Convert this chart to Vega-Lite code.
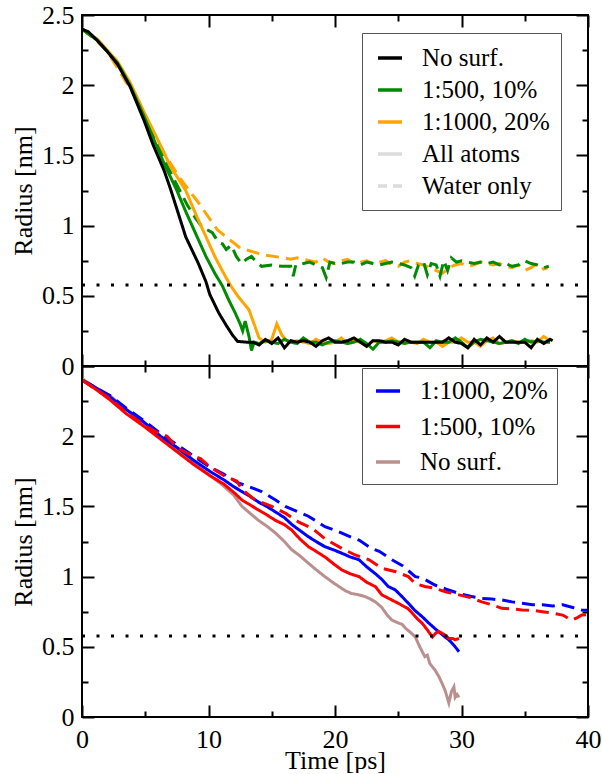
{
  "$schema": "https://vega.github.io/schema/vega-lite/v6.json",
  "padding": {"left": 10, "top": 2, "right": 5, "bottom": 0},
  "background": "white",
  "spacing": 0,
  "bounds": "flush",
  "config": {
    "font": "Liberation Serif",
    "view": {"stroke": null},
    "axis": {
      "domain": false, "grid": false,
      "labelFont": "Liberation Serif", "labelFontSize": 26, "labelColor": "black",
      "titleFont": "Liberation Serif", "titleFontSize": 26, "titleFontWeight": "normal", "titleColor": "black",
      "tickColor": "black", "tickWidth": 2, "labelFlush": false, "labelOverlap": false
    },
    "legend": {
      "labelFont": "Liberation Serif", "labelFontSize": 25, "labelColor": "black",
      "symbolType": "stroke", "symbolSize": 576, "symbolStrokeWidth": 3.5,
      "labelOffset": 18, "strokeColor": "#555555", "fillColor": "white", "padding": 11,
      "symbolOffset": 3, "orient": "none", "direction": "vertical", "title": null
    }
  },
  "datasets": {
    "top": [
      {"s":"1:1000, 20%","k":"w","t":0,"r":2.40},{"s":"1:1000, 20%","k":"w","t":1.0,"r":2.33},{"s":"1:1000, 20%","k":"w","t":2.0,"r":2.24},{"s":"1:1000, 20%","k":"w","t":3.5,"r":2.02},{"s":"1:1000, 20%","k":"w","t":4.4,"r":1.89},{"s":"1:1000, 20%","k":"w","t":5.4,"r":1.70},{"s":"1:1000, 20%","k":"w","t":6.6,"r":1.50},{"s":"1:1000, 20%","k":"w","t":7.8,"r":1.33},{"s":"1:1000, 20%","k":"w","t":9.15,"r":1.17},{"s":"1:1000, 20%","k":"w","t":10.7,"r":0.97},{"s":"1:1000, 20%","k":"w","t":12.5,"r":0.84},{"s":"1:1000, 20%","k":"w","t":14.4,"r":0.79},{"s":"1:1000, 20%","k":"w","t":16.0,"r":0.77},{"s":"1:1000, 20%","k":"w","t":16.5,"r":0.76},{"s":"1:1000, 20%","k":"w","t":17.0,"r":0.77},{"s":"1:1000, 20%","k":"w","t":17.5,"r":0.76},{"s":"1:1000, 20%","k":"w","t":18,"r":0.75},{"s":"1:1000, 20%","k":"w","t":18.5,"r":0.74},{"s":"1:1000, 20%","k":"w","t":19,"r":0.77},{"s":"1:1000, 20%","k":"w","t":19.5,"r":0.74},{"s":"1:1000, 20%","k":"w","t":20,"r":0.73},{"s":"1:1000, 20%","k":"w","t":20.5,"r":0.75},{"s":"1:1000, 20%","k":"w","t":21,"r":0.76},{"s":"1:1000, 20%","k":"w","t":21.5,"r":0.73},{"s":"1:1000, 20%","k":"w","t":22,"r":0.74},{"s":"1:1000, 20%","k":"w","t":22.5,"r":0.75},{"s":"1:1000, 20%","k":"w","t":23,"r":0.73},{"s":"1:1000, 20%","k":"w","t":23.5,"r":0.74},{"s":"1:1000, 20%","k":"w","t":24,"r":0.75},{"s":"1:1000, 20%","k":"w","t":24.5,"r":0.72},{"s":"1:1000, 20%","k":"w","t":25,"r":0.71},{"s":"1:1000, 20%","k":"w","t":25.5,"r":0.74},{"s":"1:1000, 20%","k":"w","t":26,"r":0.75},{"s":"1:1000, 20%","k":"w","t":26.5,"r":0.73},{"s":"1:1000, 20%","k":"w","t":27,"r":0.72},{"s":"1:1000, 20%","k":"w","t":27.5,"r":0.70},{"s":"1:1000, 20%","k":"w","t":28,"r":0.68},{"s":"1:1000, 20%","k":"w","t":28.5,"r":0.66},{"s":"1:1000, 20%","k":"w","t":29,"r":0.70},{"s":"1:1000, 20%","k":"w","t":29.5,"r":0.72},{"s":"1:1000, 20%","k":"w","t":30,"r":0.73},{"s":"1:1000, 20%","k":"w","t":30.5,"r":0.71},{"s":"1:1000, 20%","k":"w","t":31,"r":0.72},{"s":"1:1000, 20%","k":"w","t":31.5,"r":0.74},{"s":"1:1000, 20%","k":"w","t":32,"r":0.73},{"s":"1:1000, 20%","k":"w","t":32.5,"r":0.72},{"s":"1:1000, 20%","k":"w","t":33,"r":0.73},{"s":"1:1000, 20%","k":"w","t":33.5,"r":0.71},{"s":"1:1000, 20%","k":"w","t":34,"r":0.70},{"s":"1:1000, 20%","k":"w","t":34.5,"r":0.72},{"s":"1:1000, 20%","k":"w","t":35,"r":0.68},{"s":"1:1000, 20%","k":"w","t":35.5,"r":0.70},{"s":"1:1000, 20%","k":"w","t":36,"r":0.73},{"s":"1:1000, 20%","k":"w","t":36.5,"r":0.69},{"s":"1:1000, 20%","k":"w","t":36.8,"r":0.70},

      {"s":"1:500, 10%","k":"w","t":0,"r":2.40},{"s":"1:500, 10%","k":"w","t":1.2,"r":2.32},{"s":"1:500, 10%","k":"w","t":2.0,"r":2.24},{"s":"1:500, 10%","k":"w","t":2.8,"r":2.16},{"s":"1:500, 10%","k":"w","t":3.8,"r":2.00},{"s":"1:500, 10%","k":"w","t":4.9,"r":1.79},{"s":"1:500, 10%","k":"w","t":5.6,"r":1.65},{"s":"1:500, 10%","k":"w","t":6.5,"r":1.47},{"s":"1:500, 10%","k":"w","t":7.5,"r":1.29},{"s":"1:500, 10%","k":"w","t":8.3,"r":1.15},{"s":"1:500, 10%","k":"w","t":9.0,"r":1.05},{"s":"1:500, 10%","k":"w","t":9.5,"r":0.99},{"s":"1:500, 10%","k":"w","t":10.3,"r":0.95},{"s":"1:500, 10%","k":"w","t":10.8,"r":0.88},{"s":"1:500, 10%","k":"w","t":11.1,"r":0.87},{"s":"1:500, 10%","k":"w","t":11.4,"r":0.83},{"s":"1:500, 10%","k":"w","t":11.8,"r":0.86},{"s":"1:500, 10%","k":"w","t":12.2,"r":0.78},{"s":"1:500, 10%","k":"w","t":12.6,"r":0.73},{"s":"1:500, 10%","k":"w","t":13.0,"r":0.76},{"s":"1:500, 10%","k":"w","t":13.4,"r":0.78},{"s":"1:500, 10%","k":"w","t":13.8,"r":0.74},{"s":"1:500, 10%","k":"w","t":14.2,"r":0.71},{"s":"1:500, 10%","k":"w","t":15.0,"r":0.72},{"s":"1:500, 10%","k":"w","t":15.8,"r":0.71},{"s":"1:500, 10%","k":"w","t":16.5,"r":0.71},{"s":"1:500, 10%","k":"w","t":16.7,"r":0.64},{"s":"1:500, 10%","k":"w","t":16.9,"r":0.72},{"s":"1:500, 10%","k":"w","t":17.5,"r":0.73},{"s":"1:500, 10%","k":"w","t":18.0,"r":0.74},{"s":"1:500, 10%","k":"w","t":18.5,"r":0.72},{"s":"1:500, 10%","k":"w","t":19.0,"r":0.70},{"s":"1:500, 10%","k":"w","t":19.3,"r":0.63},{"s":"1:500, 10%","k":"w","t":19.6,"r":0.74},{"s":"1:500, 10%","k":"w","t":20.0,"r":0.73},{"s":"1:500, 10%","k":"w","t":20.5,"r":0.73},{"s":"1:500, 10%","k":"w","t":21,"r":0.74},{"s":"1:500, 10%","k":"w","t":21.5,"r":0.74},{"s":"1:500, 10%","k":"w","t":22,"r":0.72},{"s":"1:500, 10%","k":"w","t":22.5,"r":0.74},{"s":"1:500, 10%","k":"w","t":23,"r":0.73},{"s":"1:500, 10%","k":"w","t":23.5,"r":0.72},{"s":"1:500, 10%","k":"w","t":24,"r":0.73},{"s":"1:500, 10%","k":"w","t":24.5,"r":0.74},{"s":"1:500, 10%","k":"w","t":25,"r":0.73},{"s":"1:500, 10%","k":"w","t":25.5,"r":0.72},{"s":"1:500, 10%","k":"w","t":26,"r":0.70},{"s":"1:500, 10%","k":"w","t":26.3,"r":0.64},{"s":"1:500, 10%","k":"w","t":26.6,"r":0.72},{"s":"1:500, 10%","k":"w","t":27,"r":0.74},{"s":"1:500, 10%","k":"w","t":27.3,"r":0.65},{"s":"1:500, 10%","k":"w","t":27.6,"r":0.73},{"s":"1:500, 10%","k":"w","t":28,"r":0.72},{"s":"1:500, 10%","k":"w","t":28.3,"r":0.64},{"s":"1:500, 10%","k":"w","t":28.6,"r":0.75},{"s":"1:500, 10%","k":"w","t":28.9,"r":0.68},{"s":"1:500, 10%","k":"w","t":29.2,"r":0.77},{"s":"1:500, 10%","k":"w","t":29.6,"r":0.74},{"s":"1:500, 10%","k":"w","t":30,"r":0.75},{"s":"1:500, 10%","k":"w","t":30.5,"r":0.74},{"s":"1:500, 10%","k":"w","t":31,"r":0.73},{"s":"1:500, 10%","k":"w","t":31.5,"r":0.74},{"s":"1:500, 10%","k":"w","t":32,"r":0.73},{"s":"1:500, 10%","k":"w","t":32.5,"r":0.74},{"s":"1:500, 10%","k":"w","t":33,"r":0.72},{"s":"1:500, 10%","k":"w","t":33.5,"r":0.73},{"s":"1:500, 10%","k":"w","t":34,"r":0.71},{"s":"1:500, 10%","k":"w","t":34.5,"r":0.72},{"s":"1:500, 10%","k":"w","t":35,"r":0.75},{"s":"1:500, 10%","k":"w","t":35.5,"r":0.73},{"s":"1:500, 10%","k":"w","t":36,"r":0.72},{"s":"1:500, 10%","k":"w","t":36.5,"r":0.70},{"s":"1:500, 10%","k":"w","t":36.9,"r":0.71},

      {"s":"1:1000, 20%","k":"a","t":0,"r":2.40},{"s":"1:1000, 20%","k":"a","t":1.2,"r":2.33},{"s":"1:1000, 20%","k":"a","t":2.0,"r":2.25},{"s":"1:1000, 20%","k":"a","t":2.8,"r":2.17},{"s":"1:1000, 20%","k":"a","t":3.8,"r":2.02},{"s":"1:1000, 20%","k":"a","t":4.9,"r":1.81},{"s":"1:1000, 20%","k":"a","t":6.0,"r":1.61},{"s":"1:1000, 20%","k":"a","t":7.0,"r":1.42},{"s":"1:1000, 20%","k":"a","t":8.2,"r":1.25},{"s":"1:1000, 20%","k":"a","t":9.0,"r":1.08},{"s":"1:1000, 20%","k":"a","t":9.8,"r":0.92},{"s":"1:1000, 20%","k":"a","t":10.5,"r":0.78},{"s":"1:1000, 20%","k":"a","t":11.2,"r":0.66},{"s":"1:1000, 20%","k":"a","t":11.7,"r":0.58},{"s":"1:1000, 20%","k":"a","t":12.3,"r":0.50},{"s":"1:1000, 20%","k":"a","t":13.2,"r":0.40},{"s":"1:1000, 20%","k":"a","t":13.6,"r":0.30},{"s":"1:1000, 20%","k":"a","t":14.0,"r":0.20},{"s":"1:1000, 20%","k":"a","t":14.5,"r":0.17},{"s":"1:1000, 20%","k":"a","t":15.0,"r":0.19},{"s":"1:1000, 20%","k":"a","t":15.4,"r":0.30},{"s":"1:1000, 20%","k":"a","t":15.8,"r":0.22},{"s":"1:1000, 20%","k":"a","t":16.2,"r":0.18},{"s":"1:1000, 20%","k":"a","t":16.5,"r":0.17},{"s":"1:1000, 20%","k":"a","t":17,"r":0.18},{"s":"1:1000, 20%","k":"a","t":17.5,"r":0.17},{"s":"1:1000, 20%","k":"a","t":18,"r":0.16},{"s":"1:1000, 20%","k":"a","t":18.5,"r":0.19},{"s":"1:1000, 20%","k":"a","t":19,"r":0.17},{"s":"1:1000, 20%","k":"a","t":19.5,"r":0.16},{"s":"1:1000, 20%","k":"a","t":20,"r":0.17},{"s":"1:1000, 20%","k":"a","t":20.5,"r":0.20},{"s":"1:1000, 20%","k":"a","t":21,"r":0.16},{"s":"1:1000, 20%","k":"a","t":21.5,"r":0.18},{"s":"1:1000, 20%","k":"a","t":22,"r":0.17},{"s":"1:1000, 20%","k":"a","t":22.5,"r":0.14},{"s":"1:1000, 20%","k":"a","t":23,"r":0.18},{"s":"1:1000, 20%","k":"a","t":23.5,"r":0.17},{"s":"1:1000, 20%","k":"a","t":24,"r":0.18},{"s":"1:1000, 20%","k":"a","t":24.5,"r":0.20},{"s":"1:1000, 20%","k":"a","t":25,"r":0.17},{"s":"1:1000, 20%","k":"a","t":25.5,"r":0.18},{"s":"1:1000, 20%","k":"a","t":26,"r":0.17},{"s":"1:1000, 20%","k":"a","t":26.5,"r":0.16},{"s":"1:1000, 20%","k":"a","t":27,"r":0.19},{"s":"1:1000, 20%","k":"a","t":27.5,"r":0.17},{"s":"1:1000, 20%","k":"a","t":28,"r":0.17},{"s":"1:1000, 20%","k":"a","t":28.5,"r":0.14},{"s":"1:1000, 20%","k":"a","t":29,"r":0.17},{"s":"1:1000, 20%","k":"a","t":29.5,"r":0.17},{"s":"1:1000, 20%","k":"a","t":30,"r":0.20},{"s":"1:1000, 20%","k":"a","t":30.5,"r":0.17},{"s":"1:1000, 20%","k":"a","t":31,"r":0.17},{"s":"1:1000, 20%","k":"a","t":31.5,"r":0.14},{"s":"1:1000, 20%","k":"a","t":32,"r":0.18},{"s":"1:1000, 20%","k":"a","t":32.5,"r":0.20},{"s":"1:1000, 20%","k":"a","t":33,"r":0.16},{"s":"1:1000, 20%","k":"a","t":33.5,"r":0.17},{"s":"1:1000, 20%","k":"a","t":34,"r":0.18},{"s":"1:1000, 20%","k":"a","t":34.5,"r":0.17},{"s":"1:1000, 20%","k":"a","t":35,"r":0.17},{"s":"1:1000, 20%","k":"a","t":35.5,"r":0.18},{"s":"1:1000, 20%","k":"a","t":36,"r":0.17},{"s":"1:1000, 20%","k":"a","t":36.5,"r":0.21},{"s":"1:1000, 20%","k":"a","t":37,"r":0.18},

      {"s":"1:500, 10%","k":"a","t":0,"r":2.40},{"s":"1:500, 10%","k":"a","t":1.2,"r":2.32},{"s":"1:500, 10%","k":"a","t":2.0,"r":2.24},{"s":"1:500, 10%","k":"a","t":2.8,"r":2.16},{"s":"1:500, 10%","k":"a","t":3.8,"r":2.00},{"s":"1:500, 10%","k":"a","t":4.9,"r":1.78},{"s":"1:500, 10%","k":"a","t":5.6,"r":1.63},{"s":"1:500, 10%","k":"a","t":6.5,"r":1.44},{"s":"1:500, 10%","k":"a","t":7.5,"r":1.25},{"s":"1:500, 10%","k":"a","t":8.2,"r":1.10},{"s":"1:500, 10%","k":"a","t":9.1,"r":0.92},{"s":"1:500, 10%","k":"a","t":9.8,"r":0.78},{"s":"1:500, 10%","k":"a","t":10.5,"r":0.66},{"s":"1:500, 10%","k":"a","t":11.1,"r":0.57},{"s":"1:500, 10%","k":"a","t":11.6,"r":0.47},{"s":"1:500, 10%","k":"a","t":12.1,"r":0.38},{"s":"1:500, 10%","k":"a","t":12.5,"r":0.30},{"s":"1:500, 10%","k":"a","t":12.7,"r":0.25},{"s":"1:500, 10%","k":"a","t":12.9,"r":0.32},{"s":"1:500, 10%","k":"a","t":13.2,"r":0.21},{"s":"1:500, 10%","k":"a","t":13.4,"r":0.11},{"s":"1:500, 10%","k":"a","t":13.6,"r":0.17},{"s":"1:500, 10%","k":"a","t":14.0,"r":0.16},{"s":"1:500, 10%","k":"a","t":14.5,"r":0.18},{"s":"1:500, 10%","k":"a","t":15,"r":0.17},{"s":"1:500, 10%","k":"a","t":15.5,"r":0.16},{"s":"1:500, 10%","k":"a","t":16,"r":0.19},{"s":"1:500, 10%","k":"a","t":16.5,"r":0.17},{"s":"1:500, 10%","k":"a","t":17,"r":0.16},{"s":"1:500, 10%","k":"a","t":17.5,"r":0.20},{"s":"1:500, 10%","k":"a","t":18,"r":0.17},{"s":"1:500, 10%","k":"a","t":18.5,"r":0.17},{"s":"1:500, 10%","k":"a","t":19,"r":0.15},{"s":"1:500, 10%","k":"a","t":19.5,"r":0.17},{"s":"1:500, 10%","k":"a","t":20,"r":0.18},{"s":"1:500, 10%","k":"a","t":20.5,"r":0.17},{"s":"1:500, 10%","k":"a","t":21,"r":0.16},{"s":"1:500, 10%","k":"a","t":21.5,"r":0.17},{"s":"1:500, 10%","k":"a","t":22,"r":0.19},{"s":"1:500, 10%","k":"a","t":22.5,"r":0.16},{"s":"1:500, 10%","k":"a","t":23,"r":0.12},{"s":"1:500, 10%","k":"a","t":23.5,"r":0.17},{"s":"1:500, 10%","k":"a","t":24,"r":0.17},{"s":"1:500, 10%","k":"a","t":24.5,"r":0.18},{"s":"1:500, 10%","k":"a","t":25,"r":0.17},{"s":"1:500, 10%","k":"a","t":25.5,"r":0.16},{"s":"1:500, 10%","k":"a","t":26,"r":0.17},{"s":"1:500, 10%","k":"a","t":26.5,"r":0.17},{"s":"1:500, 10%","k":"a","t":27,"r":0.17},{"s":"1:500, 10%","k":"a","t":27.5,"r":0.13},{"s":"1:500, 10%","k":"a","t":28,"r":0.18},{"s":"1:500, 10%","k":"a","t":28.5,"r":0.17},{"s":"1:500, 10%","k":"a","t":29,"r":0.17},{"s":"1:500, 10%","k":"a","t":29.5,"r":0.20},{"s":"1:500, 10%","k":"a","t":30,"r":0.17},{"s":"1:500, 10%","k":"a","t":30.5,"r":0.13},{"s":"1:500, 10%","k":"a","t":31,"r":0.17},{"s":"1:500, 10%","k":"a","t":31.5,"r":0.19},{"s":"1:500, 10%","k":"a","t":32,"r":0.18},{"s":"1:500, 10%","k":"a","t":32.5,"r":0.17},{"s":"1:500, 10%","k":"a","t":33,"r":0.16},{"s":"1:500, 10%","k":"a","t":33.5,"r":0.17},{"s":"1:500, 10%","k":"a","t":34,"r":0.18},{"s":"1:500, 10%","k":"a","t":34.5,"r":0.16},{"s":"1:500, 10%","k":"a","t":35,"r":0.19},{"s":"1:500, 10%","k":"a","t":35.5,"r":0.17},{"s":"1:500, 10%","k":"a","t":36,"r":0.18},{"s":"1:500, 10%","k":"a","t":36.5,"r":0.17},{"s":"1:500, 10%","k":"a","t":37,"r":0.17},

      {"s":"No surf.","k":"a","t":0,"r":2.40},{"s":"No surf.","k":"a","t":0.5,"r":2.38},{"s":"No surf.","k":"a","t":1.2,"r":2.32},{"s":"No surf.","k":"a","t":2.0,"r":2.24},{"s":"No surf.","k":"a","t":2.8,"r":2.15},{"s":"No surf.","k":"a","t":3.8,"r":1.99},{"s":"No surf.","k":"a","t":4.9,"r":1.75},{"s":"No surf.","k":"a","t":5.6,"r":1.58},{"s":"No surf.","k":"a","t":6.5,"r":1.39},{"s":"No surf.","k":"a","t":7.0,"r":1.26},{"s":"No surf.","k":"a","t":8.2,"r":0.92},{"s":"No surf.","k":"a","t":9.2,"r":0.73},{"s":"No surf.","k":"a","t":9.8,"r":0.60},{"s":"No surf.","k":"a","t":10.1,"r":0.51},{"s":"No surf.","k":"a","t":10.8,"r":0.38},{"s":"No surf.","k":"a","t":11.4,"r":0.29},{"s":"No surf.","k":"a","t":11.9,"r":0.22},{"s":"No surf.","k":"a","t":12.3,"r":0.175},{"s":"No surf.","k":"a","t":13.0,"r":0.17},{"s":"No surf.","k":"a","t":13.5,"r":0.17},{"s":"No surf.","k":"a","t":14,"r":0.15},{"s":"No surf.","k":"a","t":14.5,"r":0.19},{"s":"No surf.","k":"a","t":15,"r":0.16},{"s":"No surf.","k":"a","t":15.5,"r":0.20},{"s":"No surf.","k":"a","t":16,"r":0.13},{"s":"No surf.","k":"a","t":16.5,"r":0.18},{"s":"No surf.","k":"a","t":17,"r":0.17},{"s":"No surf.","k":"a","t":17.5,"r":0.18},{"s":"No surf.","k":"a","t":18,"r":0.17},{"s":"No surf.","k":"a","t":18.5,"r":0.14},{"s":"No surf.","k":"a","t":19,"r":0.18},{"s":"No surf.","k":"a","t":19.5,"r":0.20},{"s":"No surf.","k":"a","t":20,"r":0.17},{"s":"No surf.","k":"a","t":20.5,"r":0.17},{"s":"No surf.","k":"a","t":21,"r":0.18},{"s":"No surf.","k":"a","t":21.5,"r":0.20},{"s":"No surf.","k":"a","t":22,"r":0.17},{"s":"No surf.","k":"a","t":22.5,"r":0.14},{"s":"No surf.","k":"a","t":23,"r":0.18},{"s":"No surf.","k":"a","t":23.5,"r":0.18},{"s":"No surf.","k":"a","t":24,"r":0.17},{"s":"No surf.","k":"a","t":24.5,"r":0.17},{"s":"No surf.","k":"a","t":25,"r":0.15},{"s":"No surf.","k":"a","t":25.5,"r":0.19},{"s":"No surf.","k":"a","t":26,"r":0.17},{"s":"No surf.","k":"a","t":26.5,"r":0.17},{"s":"No surf.","k":"a","t":27,"r":0.17},{"s":"No surf.","k":"a","t":27.5,"r":0.17},{"s":"No surf.","k":"a","t":28,"r":0.17},{"s":"No surf.","k":"a","t":28.5,"r":0.17},{"s":"No surf.","k":"a","t":29,"r":0.20},{"s":"No surf.","k":"a","t":29.5,"r":0.17},{"s":"No surf.","k":"a","t":30,"r":0.16},{"s":"No surf.","k":"a","t":30.5,"r":0.13},{"s":"No surf.","k":"a","t":31,"r":0.19},{"s":"No surf.","k":"a","t":31.5,"r":0.15},{"s":"No surf.","k":"a","t":32,"r":0.20},{"s":"No surf.","k":"a","t":32.5,"r":0.17},{"s":"No surf.","k":"a","t":33,"r":0.21},{"s":"No surf.","k":"a","t":33.5,"r":0.17},{"s":"No surf.","k":"a","t":34,"r":0.17},{"s":"No surf.","k":"a","t":34.5,"r":0.17},{"s":"No surf.","k":"a","t":35,"r":0.17},{"s":"No surf.","k":"a","t":35.5,"r":0.13},{"s":"No surf.","k":"a","t":36,"r":0.19},{"s":"No surf.","k":"a","t":36.5,"r":0.16},{"s":"No surf.","k":"a","t":37,"r":0.19},{"s":"No surf.","k":"a","t":37.2,"r":0.18}
    ],
    "bottom": [
      {"s":"No surf.","k":"a","t":0,"r":2.41},{"s":"No surf.","k":"a","t":1,"r":2.35},{"s":"No surf.","k":"a","t":2.2,"r":2.29},{"s":"No surf.","k":"a","t":3.5,"r":2.19},{"s":"No surf.","k":"a","t":4.9,"r":2.09},{"s":"No surf.","k":"a","t":6.2,"r":1.99},{"s":"No surf.","k":"a","t":7.5,"r":1.90},{"s":"No surf.","k":"a","t":8.8,"r":1.81},{"s":"No surf.","k":"a","t":10.1,"r":1.72},{"s":"No surf.","k":"a","t":11.0,"r":1.66},{"s":"No surf.","k":"a","t":12.0,"r":1.58},{"s":"No surf.","k":"a","t":12.65,"r":1.50},{"s":"No surf.","k":"a","t":13.3,"r":1.45},{"s":"No surf.","k":"a","t":13.96,"r":1.40},{"s":"No surf.","k":"a","t":14.6,"r":1.36},{"s":"No surf.","k":"a","t":15.3,"r":1.31},{"s":"No surf.","k":"a","t":16.0,"r":1.25},{"s":"No surf.","k":"a","t":16.6,"r":1.19},{"s":"No surf.","k":"a","t":17.2,"r":1.15},{"s":"No surf.","k":"a","t":17.9,"r":1.095},{"s":"No surf.","k":"a","t":18.5,"r":1.05},{"s":"No surf.","k":"a","t":19.2,"r":1.0},{"s":"No surf.","k":"a","t":19.8,"r":0.96},{"s":"No surf.","k":"a","t":20.3,"r":0.93},{"s":"No surf.","k":"a","t":20.8,"r":0.90},{"s":"No surf.","k":"a","t":21.3,"r":0.88},{"s":"No surf.","k":"a","t":21.9,"r":0.87},{"s":"No surf.","k":"a","t":22.4,"r":0.857},{"s":"No surf.","k":"a","t":22.8,"r":0.84},{"s":"No surf.","k":"a","t":23.2,"r":0.82},{"s":"No surf.","k":"a","t":23.7,"r":0.78},{"s":"No surf.","k":"a","t":24.1,"r":0.73},{"s":"No surf.","k":"a","t":24.5,"r":0.69},{"s":"No surf.","k":"a","t":25.0,"r":0.67},{"s":"No surf.","k":"a","t":25.3,"r":0.66},{"s":"No surf.","k":"a","t":25.6,"r":0.63},{"s":"No surf.","k":"a","t":26.0,"r":0.60},{"s":"No surf.","k":"a","t":26.35,"r":0.57},{"s":"No surf.","k":"a","t":26.7,"r":0.50},{"s":"No surf.","k":"a","t":27.1,"r":0.43},{"s":"No surf.","k":"a","t":27.3,"r":0.44},{"s":"No surf.","k":"a","t":27.5,"r":0.38},{"s":"No surf.","k":"a","t":27.9,"r":0.335},{"s":"No surf.","k":"a","t":28.2,"r":0.29},{"s":"No surf.","k":"a","t":28.46,"r":0.24},{"s":"No surf.","k":"a","t":28.7,"r":0.19},{"s":"No surf.","k":"a","t":28.85,"r":0.145},{"s":"No surf.","k":"a","t":29.0,"r":0.10},{"s":"No surf.","k":"a","t":29.2,"r":0.18},{"s":"No surf.","k":"a","t":29.4,"r":0.215},{"s":"No surf.","k":"a","t":29.5,"r":0.14},{"s":"No surf.","k":"a","t":29.65,"r":0.16},{"s":"No surf.","k":"a","t":29.8,"r":0.14},

      {"s":"1:1000, 20%","k":"w","t":0,"r":2.40},{"s":"1:1000, 20%","k":"w","t":1,"r":2.35},{"s":"1:1000, 20%","k":"w","t":2.2,"r":2.29},{"s":"1:1000, 20%","k":"w","t":3.5,"r":2.20},{"s":"1:1000, 20%","k":"w","t":4.9,"r":2.11},{"s":"1:1000, 20%","k":"w","t":6.2,"r":2.02},{"s":"1:1000, 20%","k":"w","t":7.5,"r":1.94},{"s":"1:1000, 20%","k":"w","t":8.8,"r":1.86},{"s":"1:1000, 20%","k":"w","t":10.1,"r":1.78},{"s":"1:1000, 20%","k":"w","t":11.2,"r":1.73},{"s":"1:1000, 20%","k":"w","t":12.3,"r":1.67},{"s":"1:1000, 20%","k":"w","t":13.2,"r":1.64},{"s":"1:1000, 20%","k":"w","t":14.2,"r":1.605},{"s":"1:1000, 20%","k":"w","t":15.3,"r":1.546},{"s":"1:1000, 20%","k":"w","t":16.07,"r":1.50},{"s":"1:1000, 20%","k":"w","t":17.1,"r":1.46},{"s":"1:1000, 20%","k":"w","t":17.9,"r":1.43},{"s":"1:1000, 20%","k":"w","t":19.2,"r":1.355},{"s":"1:1000, 20%","k":"w","t":20.0,"r":1.33},{"s":"1:1000, 20%","k":"w","t":21.3,"r":1.28},{"s":"1:1000, 20%","k":"w","t":21.9,"r":1.26},{"s":"1:1000, 20%","k":"w","t":22.9,"r":1.20},{"s":"1:1000, 20%","k":"w","t":23.5,"r":1.18},{"s":"1:1000, 20%","k":"w","t":24.5,"r":1.12},{"s":"1:1000, 20%","k":"w","t":25.3,"r":1.08},{"s":"1:1000, 20%","k":"w","t":26.35,"r":1.0},{"s":"1:1000, 20%","k":"w","t":26.9,"r":0.99},{"s":"1:1000, 20%","k":"w","t":27.9,"r":0.94},{"s":"1:1000, 20%","k":"w","t":28.8,"r":0.91},{"s":"1:1000, 20%","k":"w","t":29.8,"r":0.88},{"s":"1:1000, 20%","k":"w","t":30.7,"r":0.86},{"s":"1:1000, 20%","k":"w","t":31.6,"r":0.845},{"s":"1:1000, 20%","k":"w","t":32.4,"r":0.84},{"s":"1:1000, 20%","k":"w","t":33.2,"r":0.833},{"s":"1:1000, 20%","k":"w","t":34.0,"r":0.82},{"s":"1:1000, 20%","k":"w","t":34.8,"r":0.81},{"s":"1:1000, 20%","k":"w","t":35.6,"r":0.80},{"s":"1:1000, 20%","k":"w","t":36.4,"r":0.80},{"s":"1:1000, 20%","k":"w","t":37.2,"r":0.79},{"s":"1:1000, 20%","k":"w","t":38.0,"r":0.80},{"s":"1:1000, 20%","k":"w","t":38.8,"r":0.78},{"s":"1:1000, 20%","k":"w","t":39.5,"r":0.762},{"s":"1:1000, 20%","k":"w","t":40,"r":0.76},

      {"s":"1:1000, 20%","k":"a","t":0,"r":2.40},{"s":"1:1000, 20%","k":"a","t":1,"r":2.35},{"s":"1:1000, 20%","k":"a","t":2.2,"r":2.28},{"s":"1:1000, 20%","k":"a","t":3.5,"r":2.19},{"s":"1:1000, 20%","k":"a","t":4.9,"r":2.10},{"s":"1:1000, 20%","k":"a","t":6.2,"r":2.0},{"s":"1:1000, 20%","k":"a","t":7.5,"r":1.92},{"s":"1:1000, 20%","k":"a","t":8.8,"r":1.83},{"s":"1:1000, 20%","k":"a","t":10.1,"r":1.75},{"s":"1:1000, 20%","k":"a","t":11.2,"r":1.69},{"s":"1:1000, 20%","k":"a","t":12.0,"r":1.64},{"s":"1:1000, 20%","k":"a","t":12.65,"r":1.605},{"s":"1:1000, 20%","k":"a","t":13.3,"r":1.57},{"s":"1:1000, 20%","k":"a","t":13.96,"r":1.53},{"s":"1:1000, 20%","k":"a","t":14.6,"r":1.50},{"s":"1:1000, 20%","k":"a","t":15.3,"r":1.46},{"s":"1:1000, 20%","k":"a","t":16.0,"r":1.42},{"s":"1:1000, 20%","k":"a","t":16.6,"r":1.37},{"s":"1:1000, 20%","k":"a","t":17.2,"r":1.33},{"s":"1:1000, 20%","k":"a","t":17.9,"r":1.284},{"s":"1:1000, 20%","k":"a","t":18.5,"r":1.25},{"s":"1:1000, 20%","k":"a","t":19.2,"r":1.213},{"s":"1:1000, 20%","k":"a","t":19.9,"r":1.19},{"s":"1:1000, 20%","k":"a","t":20.55,"r":1.166},{"s":"1:1000, 20%","k":"a","t":21.2,"r":1.14},{"s":"1:1000, 20%","k":"a","t":21.9,"r":1.12},{"s":"1:1000, 20%","k":"a","t":22.5,"r":1.07},{"s":"1:1000, 20%","k":"a","t":23.2,"r":1.02},{"s":"1:1000, 20%","k":"a","t":23.7,"r":0.98},{"s":"1:1000, 20%","k":"a","t":24.2,"r":0.93},{"s":"1:1000, 20%","k":"a","t":24.77,"r":0.905},{"s":"1:1000, 20%","k":"a","t":25.3,"r":0.857},{"s":"1:1000, 20%","k":"a","t":25.8,"r":0.81},{"s":"1:1000, 20%","k":"a","t":26.3,"r":0.76},{"s":"1:1000, 20%","k":"a","t":26.9,"r":0.714},{"s":"1:1000, 20%","k":"a","t":27.4,"r":0.67},{"s":"1:1000, 20%","k":"a","t":27.9,"r":0.63},{"s":"1:1000, 20%","k":"a","t":28.3,"r":0.60},{"s":"1:1000, 20%","k":"a","t":28.7,"r":0.57},{"s":"1:1000, 20%","k":"a","t":29.0,"r":0.55},{"s":"1:1000, 20%","k":"a","t":29.25,"r":0.525},{"s":"1:1000, 20%","k":"a","t":29.5,"r":0.50},{"s":"1:1000, 20%","k":"a","t":29.8,"r":0.465},

      {"s":"1:500, 10%","k":"w","t":0,"r":2.40},{"s":"1:500, 10%","k":"w","t":1,"r":2.34},{"s":"1:500, 10%","k":"w","t":2.2,"r":2.27},{"s":"1:500, 10%","k":"w","t":3.5,"r":2.17},{"s":"1:500, 10%","k":"w","t":4.9,"r":2.08},{"s":"1:500, 10%","k":"w","t":5.66,"r":2.04},{"s":"1:500, 10%","k":"w","t":6.72,"r":2.0},{"s":"1:500, 10%","k":"w","t":7.5,"r":1.92},{"s":"1:500, 10%","k":"w","t":8.3,"r":1.88},{"s":"1:500, 10%","k":"w","t":9.36,"r":1.84},{"s":"1:500, 10%","k":"w","t":10.14,"r":1.78},{"s":"1:500, 10%","k":"w","t":11.2,"r":1.72},{"s":"1:500, 10%","k":"w","t":12.25,"r":1.68},{"s":"1:500, 10%","k":"w","t":12.65,"r":1.62},{"s":"1:500, 10%","k":"w","t":13.7,"r":1.545},{"s":"1:500, 10%","k":"w","t":15.0,"r":1.50},{"s":"1:500, 10%","k":"w","t":16.1,"r":1.45},{"s":"1:500, 10%","k":"w","t":17.1,"r":1.39},{"s":"1:500, 10%","k":"w","t":18.2,"r":1.344},{"s":"1:500, 10%","k":"w","t":19.2,"r":1.27},{"s":"1:500, 10%","k":"w","t":20.55,"r":1.20},{"s":"1:500, 10%","k":"w","t":21.6,"r":1.154},{"s":"1:500, 10%","k":"w","t":22.7,"r":1.12},{"s":"1:500, 10%","k":"w","t":23.7,"r":1.06},{"s":"1:500, 10%","k":"w","t":24.8,"r":1.035},{"s":"1:500, 10%","k":"w","t":25.8,"r":1.0},{"s":"1:500, 10%","k":"w","t":26.35,"r":0.95},{"s":"1:500, 10%","k":"w","t":27.1,"r":0.93},{"s":"1:500, 10%","k":"w","t":27.9,"r":0.917},{"s":"1:500, 10%","k":"w","t":28.8,"r":0.89},{"s":"1:500, 10%","k":"w","t":29.8,"r":0.87},{"s":"1:500, 10%","k":"w","t":30.7,"r":0.85},{"s":"1:500, 10%","k":"w","t":31.6,"r":0.82},{"s":"1:500, 10%","k":"w","t":32.4,"r":0.80},{"s":"1:500, 10%","k":"w","t":33.2,"r":0.774},{"s":"1:500, 10%","k":"w","t":34.0,"r":0.77},{"s":"1:500, 10%","k":"w","t":34.8,"r":0.762},{"s":"1:500, 10%","k":"w","t":35.6,"r":0.76},{"s":"1:500, 10%","k":"w","t":36.4,"r":0.75},{"s":"1:500, 10%","k":"w","t":37.2,"r":0.74},{"s":"1:500, 10%","k":"w","t":38.0,"r":0.726},{"s":"1:500, 10%","k":"w","t":38.7,"r":0.69},{"s":"1:500, 10%","k":"w","t":39.2,"r":0.71},{"s":"1:500, 10%","k":"w","t":39.5,"r":0.726},{"s":"1:500, 10%","k":"w","t":40,"r":0.73},

      {"s":"1:500, 10%","k":"a","t":0,"r":2.40},{"s":"1:500, 10%","k":"a","t":1,"r":2.34},{"s":"1:500, 10%","k":"a","t":2.2,"r":2.26},{"s":"1:500, 10%","k":"a","t":3.5,"r":2.16},{"s":"1:500, 10%","k":"a","t":4.9,"r":2.07},{"s":"1:500, 10%","k":"a","t":6.2,"r":1.98},{"s":"1:500, 10%","k":"a","t":7.5,"r":1.89},{"s":"1:500, 10%","k":"a","t":8.8,"r":1.80},{"s":"1:500, 10%","k":"a","t":10.1,"r":1.72},{"s":"1:500, 10%","k":"a","t":11.2,"r":1.66},{"s":"1:500, 10%","k":"a","t":12.0,"r":1.60},{"s":"1:500, 10%","k":"a","t":12.65,"r":1.545},{"s":"1:500, 10%","k":"a","t":13.3,"r":1.51},{"s":"1:500, 10%","k":"a","t":13.96,"r":1.474},{"s":"1:500, 10%","k":"a","t":14.6,"r":1.44},{"s":"1:500, 10%","k":"a","t":15.3,"r":1.40},{"s":"1:500, 10%","k":"a","t":16.0,"r":1.37},{"s":"1:500, 10%","k":"a","t":16.6,"r":1.33},{"s":"1:500, 10%","k":"a","t":17.2,"r":1.27},{"s":"1:500, 10%","k":"a","t":17.9,"r":1.213},{"s":"1:500, 10%","k":"a","t":18.5,"r":1.18},{"s":"1:500, 10%","k":"a","t":19.2,"r":1.14},{"s":"1:500, 10%","k":"a","t":19.9,"r":1.09},{"s":"1:500, 10%","k":"a","t":20.55,"r":1.047},{"s":"1:500, 10%","k":"a","t":21.2,"r":1.02},{"s":"1:500, 10%","k":"a","t":21.9,"r":1.0},{"s":"1:500, 10%","k":"a","t":22.5,"r":0.96},{"s":"1:500, 10%","k":"a","t":23.2,"r":0.928},{"s":"1:500, 10%","k":"a","t":23.7,"r":0.87},{"s":"1:500, 10%","k":"a","t":24.5,"r":0.833},{"s":"1:500, 10%","k":"a","t":25.0,"r":0.81},{"s":"1:500, 10%","k":"a","t":25.8,"r":0.77},{"s":"1:500, 10%","k":"a","t":26.1,"r":0.74},{"s":"1:500, 10%","k":"a","t":26.5,"r":0.70},{"s":"1:500, 10%","k":"a","t":26.9,"r":0.667},{"s":"1:500, 10%","k":"a","t":27.3,"r":0.62},{"s":"1:500, 10%","k":"a","t":27.7,"r":0.57},{"s":"1:500, 10%","k":"a","t":28.0,"r":0.60},{"s":"1:500, 10%","k":"a","t":28.2,"r":0.61},{"s":"1:500, 10%","k":"a","t":28.6,"r":0.59},{"s":"1:500, 10%","k":"a","t":29.0,"r":0.56},{"s":"1:500, 10%","k":"a","t":29.3,"r":0.56},{"s":"1:500, 10%","k":"a","t":29.5,"r":0.55},{"s":"1:500, 10%","k":"a","t":29.8,"r":0.56}
    ],
    "ref": [{"y": 0.577, "x0": 0, "x1": 40}],
    "frame": [{"x0": 0, "x1": 40, "y0": 0, "y1": 2.5}]
  },
  "vconcat": [
    {
      "width": 506, "height": 351,
      "resolve": {"axis": {"x": "independent", "y": "independent"}},
      "layer": [
        {
          "data": {"name": "top"},
          "mark": {"type": "line", "strokeWidth": 3, "strokeCap": "butt"},
          "encoding": {
            "x": {"field": "t", "type": "quantitative", "scale": {"domain": [0, 40], "nice": false, "zero": false}, "axis": null},
            "y": {"field": "r", "type": "quantitative", "scale": {"domain": [0, 2.5], "nice": false},
              "axis": {"orient": "left", "values": [0,0.5,1,1.5,2,2.5], "ticks": false,
                "labelExpr": "format(datum.value, '~g')",
                "labelPadding": 8, "title": "Radius [nm]", "titlePadding": 5}},
            "color": {"field": "s", "type": "nominal",
              "scale": {"domain": ["No surf.", "1:500, 10%", "1:1000, 20%", "All atoms", "Water only"],
                        "range": ["#000000", "#008b00", "#ffa500", "#dcdcdc", "#dcdcdc"]},
              "legend": {"legendX": 280, "legendY": 18, "rowPadding": 5,
                "encode": {"symbols": {"update": {"strokeDash": {"signal": "datum.value === 'Water only' ? [9, 6] : [1, 0]"}}}}}},
            "strokeDash": {"field": "k", "type": "nominal", "scale": {"domain": ["a", "w"], "range": [[1, 0], [13, 7]]}, "legend": null}
          }
        },
        {
          "data": {"name": "ref"},
          "mark": {"type": "rule", "color": "black", "strokeWidth": 3, "strokeDash": [3, 11.5]},
          "encoding": {
            "x": {"field": "x0", "type": "quantitative", "scale": {"domain": [0, 40], "nice": false},
              "axis": {"orient": "top", "values": [0,5,10,15,20,25,30,35,40], "labels": false, "title": null,
                "tickSize": {"condition": {"test": "datum.value % 10 === 0", "value": -12}, "value": -6}}},
            "x2": {"field": "x1"},
            "y": {"field": "y", "type": "quantitative", "scale": {"domain": [0, 2.5], "nice": false},
              "axis": {"orient": "right", "values": [0,0.25,0.5,0.75,1,1.25,1.5,1.75,2,2.25,2.5], "labels": false, "title": null,
                "tickSize": {"condition": {"test": "datum.value % 0.5 === 0", "value": -12}, "value": -6}}}
          }
        },
        {
          "data": {"name": "frame"},
          "mark": {"type": "rect", "fill": null, "fillOpacity": 0, "stroke": "black", "strokeWidth": 2},
          "encoding": {
            "x": {"field": "x0", "type": "quantitative", "scale": {"domain": [0, 40], "nice": false},
              "axis": {"orient": "bottom", "values": [0,5,10,15,20,25,30,35,40], "labels": false, "title": null,
                "tickSize": {"condition": {"test": "datum.value % 10 === 0", "value": -12}, "value": -6}}},
            "x2": {"field": "x1"},
            "y": {"field": "y0", "type": "quantitative", "scale": {"domain": [0, 2.5], "nice": false},
              "axis": {"orient": "left", "values": [0,0.25,0.5,0.75,1,1.25,1.5,1.75,2,2.25,2.5], "labels": false, "title": null,
                "tickSize": {"condition": {"test": "datum.value % 0.5 === 0", "value": -12}, "value": -6}}},
            "y2": {"field": "y1"}
          }
        }
      ]
    },
    {
      "width": 506, "height": 351,
      "resolve": {"axis": {"x": "independent", "y": "independent"}},
      "layer": [
        {
          "data": {"name": "bottom"},
          "mark": {"type": "line", "strokeWidth": 3, "strokeCap": "butt"},
          "encoding": {
            "x": {"field": "t", "type": "quantitative", "scale": {"domain": [0, 40], "nice": false, "zero": false},
              "axis": {"orient": "bottom", "values": [0,10,20,30,40], "ticks": false,
                "labelExpr": "format(datum.value, 'd')",
                "labelPadding": 9, "title": "Time [ps]", "titlePadding": -5}},
            "y": {"field": "r", "type": "quantitative", "scale": {"domain": [0, 2.5], "nice": false},
              "axis": {"orient": "left", "values": [0,0.5,1,1.5,2], "ticks": false,
                "labelExpr": "format(datum.value, '~g')",
                "labelPadding": 8, "title": "Radius [nm]", "titlePadding": 5}},
            "color": {"field": "s", "type": "nominal",
              "scale": {"domain": ["1:1000, 20%", "1:500, 10%", "No surf."],
                        "range": ["#0000ff", "#ff0000", "#bc8f8f"]},
              "legend": {"legendX": 280, "legendY": 2, "rowPadding": 8.5, "padding": 9}},
            "strokeDash": {"field": "k", "type": "nominal", "scale": {"domain": ["a", "w"], "range": [[1, 0], [13, 7]]}, "legend": null}
          }
        },
        {
          "data": {"name": "ref"},
          "mark": {"type": "rule", "color": "black", "strokeWidth": 3, "strokeDash": [3, 11.5]},
          "encoding": {
            "x": {"field": "x0", "type": "quantitative", "scale": {"domain": [0, 40], "nice": false},
              "axis": {"orient": "top", "values": [0,5,10,15,20,25,30,35,40], "labels": false, "title": null,
                "tickSize": {"condition": {"test": "datum.value % 10 === 0", "value": -12}, "value": -6}}},
            "x2": {"field": "x1"},
            "y": {"field": "y", "type": "quantitative", "scale": {"domain": [0, 2.5], "nice": false},
              "axis": {"orient": "right", "values": [0,0.25,0.5,0.75,1,1.25,1.5,1.75,2,2.25,2.5], "labels": false, "title": null,
                "tickSize": {"condition": {"test": "datum.value % 0.5 === 0", "value": -12}, "value": -6}}}
          }
        },
        {
          "data": {"name": "frame"},
          "mark": {"type": "rect", "fill": null, "fillOpacity": 0, "stroke": "black", "strokeWidth": 2},
          "encoding": {
            "x": {"field": "x0", "type": "quantitative", "scale": {"domain": [0, 40], "nice": false},
              "axis": {"orient": "bottom", "values": [0,5,10,15,20,25,30,35,40], "labels": false, "title": null,
                "tickSize": {"condition": {"test": "datum.value % 10 === 0", "value": -12}, "value": -6}}},
            "x2": {"field": "x1"},
            "y": {"field": "y0", "type": "quantitative", "scale": {"domain": [0, 2.5], "nice": false},
              "axis": {"orient": "left", "values": [0,0.25,0.5,0.75,1,1.25,1.5,1.75,2,2.25,2.5], "labels": false, "title": null,
                "tickSize": {"condition": {"test": "datum.value % 0.5 === 0", "value": -12}, "value": -6}}},
            "y2": {"field": "y1"}
          }
        }
      ]
    }
  ],
  "resolve": {"scale": {"color": "independent", "strokeDash": "independent"}, "legend": {"color": "independent"}}
}
